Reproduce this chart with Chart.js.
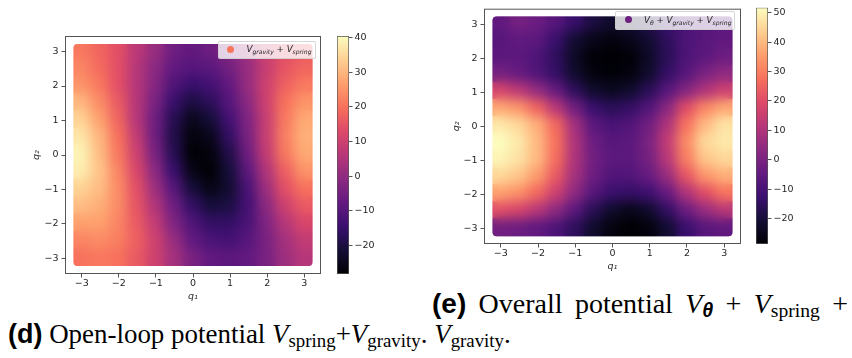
<!DOCTYPE html>
<html>
<head>
<meta charset="utf-8">
<script src="https://cdn.jsdelivr.net/npm/chart.js@4/dist/chart.umd.min.js"></script>
<style>
  body { margin: 0; background: #fff; width: 852px; height: 358px; overflow: hidden; position: relative; }
  canvas { position: absolute; top: 0; }
  .legend { position: absolute; z-index: 10; box-sizing: border-box; background: rgba(255,255,255,0.8); border: 1px solid rgba(204,204,204,0.8); border-radius: 2px; font-family: "DejaVu Sans"; font-size: 8.7px; color: #262626; }
  .legend .dot { position: absolute; width: 7px; height: 7px; border-radius: 50%; }
  .legend .txt { position: absolute; white-space: nowrap; line-height: 1; }
  .legend i { font-style: italic; }
  .legend sub { font-size: 0.7em; vertical-align: -0.3em; font-style: italic; }
  .cap { position: absolute; font-family: "Liberation Serif"; font-size: 28px; line-height: 1; white-space: nowrap; color: #000; }
  .cap b { font-family: "Liberation Sans"; font-weight: bold; }
  .cap sub { font-size: 0.7em; vertical-align: -0.22em; line-height: 0; }
  #capE { left: 432px; top: 290px; width: 416px; display: flex; justify-content: space-between; }
  #capD { left: 8px; top: 320px; transform: scaleX(0.962); transform-origin: 0 0; }
</style>
</head>
<body>
<div class="legend" style="left:218px;top:41px;width:98px;height:18px">
  <span class="dot" style="left:7.5px;top:4px;background:#f8775c"></span>
  <span class="txt" style="left:27.5px;top:3px"><i>V</i><sub>gravity</sub> + <i>V</i><sub>spring</sub></span>
</div>
<div class="legend" style="left:615px;top:11px;width:120px;height:19px">
  <span class="dot" style="left:9px;top:4px;background:#6c1f80"></span>
  <span class="txt" style="left:28px;top:3.5px"><i>V</i><sub>θ</sub> + <i>V</i><sub>gravity</sub> + <i>V</i><sub>spring</sub></span>
</div>

<div class="cap" id="capE">
  <b>(e)</b><span>Overall</span><span>potential</span><span><i>V</i><sub><b><i>θ</i></b></sub></span><span>+</span><span><i>V</i><sub>spring</sub></span><span>+</span>
</div>
<div class="cap" id="capD"><b>(d)</b> Open-loop potential <i>V</i><sub>spring</sub>+<i>V</i><sub>gravity</sub>. <i>V</i><sub>gravity</sub>.</div>

<script>
// grid of the sampled points (rows go from q2 = 3 down to q2 = -3)
const q1Vals = [-3, -2.5, -2, -1.5, -1, -0.5, 0, 0.5, 1, 1.5, 2, 2.5, 3];
const q2Vals = [3, 2.5, 2, 1.5, 1, 0.5, 0, -0.5, -1, -1.5, -2, -2.5, -3];
const qTicks = [-3, -2, -1, 0, 1, 2, 3];

// (d) open-loop potential V_gravity + V_spring
const openLoopV = [
  [21, 18, 14, 7, 1, -6, -8, -6, -2, 3, 10, 14, 16],
  [23, 19, 14, 6, -1, -8, -10, -9, -5, 1, 9, 15, 18],
  [25, 21, 14, 6, -2, -11, -15, -13, -8, 1, 10, 17, 21],
  [30, 24, 16, 6, -4, -15, -20, -17, -10, -1, 10, 20, 25],
  [34, 27, 18, 6, -6, -18, -25, -21, -13, -3, 9, 21, 28],
  [37, 30, 20, 8, -6, -19, -27, -25, -16, -4, 9, 22, 29],
  [39, 31, 21, 10, -4, -18, -28, -27, -19, -6, 8, 21, 28],
  [38, 32, 23, 12, -1, -15, -26, -28, -21, -9, 5, 17, 25],
  [34, 31, 24, 14, 2, -10, -21, -26, -22, -12, 2, 14, 20],
  [31, 29, 24, 15, 5, -6, -16, -21, -20, -13, -1, 10, 16],
  [27, 27, 23, 16, 8, -3, -11, -16, -16, -12, -3, 6, 12],
  [23, 24, 22, 17, 10, 1, -8, -12, -13, -10, -4, 3, 8],
  [20, 21, 20, 16, 10, 3, -4, -8, -9, -8, -4, 2, 6]
];
const openLoopLimits = [-28.3, 40.5];
const openLoopCbarTicks = [-20, -10, 0, 10, 20, 30, 40];

// (e) overall potential V_theta + V_gravity + V_spring
const overallV = [
  [-5, -1, -3, -7, -13, -19, -22, -21, -17, -13, -9, -7, -6],
  [-7, -5, -6, -13, -21, -25, -27, -25, -21, -15, -9, -7, -5],
  [-6, -6, -9, -15, -23, -28, -29, -28, -23, -16, -9, -6, -3],
  [-1, -4, -8, -14, -22, -27, -28, -27, -22, -14, -7, 0, 4],
  [18, 13, 5, -4, -15, -22, -24, -22, -16, -7, 2, 10, 16],
  [37, 34, 25, 12, -2, -13, -16, -14, -8, 3, 20, 31, 37],
  [48, 45, 38, 26, 8, -6, -10, -8, -2, 10, 28, 40, 47],
  [52, 48, 40, 28, 10, -3, -7, -6, 0, 14, 32, 45, 48],
  [50, 47, 40, 27, 10, -2, -6, -6, -1, 12, 30, 42, 45],
  [45, 42, 35, 23, 8, -3, -8, -8, -4, 6, 22, 34, 38],
  [36, 33, 26, 16, 4, -7, -13, -14, -12, -4, 10, 20, 28],
  [21, 18, 12, 4, -6, -16, -22, -25, -22, -14, -3, 6, 12],
  [-2, -3, -5, -9, -15, -22, -27, -29, -27, -21, -13, -7, -5]
];
const overallLimits = [-28.6, 51.7];
const overallCbarTicks = [-20, -10, 0, 10, 20, 30, 40, 50];

const magmaStops = ['#000004', '#140e36', '#3b0f70', '#641a80', '#8c2981', '#b73779',
                    '#de4968', '#f7705c', '#fe9f6d', '#fecf92', '#fcfdbf'];

const axisColor = '#555';
const textColor = '#262626';
const clear = 'rgba(0,0,0,0)';
const tickFont = { family: 'DejaVu Sans', size: 9.5 };
const titleFont = { family: 'DejaVu Sans', size: 9.5, style: 'italic' };
const qLimit = 3.45;
const fieldEdge = 3.22;

function hexRgb(h) {
  return [1, 3, 5].map(i => parseInt(h.slice(i, i + 2), 16));
}
const magmaRgb = magmaStops.map(hexRgb);

function magma(t) {
  t = Math.min(1, Math.max(0, t)) * (magmaRgb.length - 1);
  const i = Math.min(Math.floor(t), magmaRgb.length - 2);
  const f = t - i;
  const a = magmaRgb[i], b = magmaRgb[i + 1];
  const c = a.map((v, k) => Math.round(v + (b[k] - v) * f));
  return `rgb(${c[0]},${c[1]},${c[2]})`;
}

function minusLabel(v) {
  return String(v).replace('-', '\u2212');
}

function gridPoints(rows) {
  const pts = [];
  rows.forEach((row, i) => {
    row.forEach((v, j) => pts.push({ x: q1Vals[j], y: q2Vals[i], v: v }));
  });
  return pts;
}

function makeCanvas(left, w, h, z) {
  const cv = document.createElement('canvas');
  cv.width = w;
  cv.height = h;
  cv.style.left = left + 'px';
  cv.style.zIndex = z;
  document.body.appendChild(cv);
  return cv;
}

// frame around the axes
const framePlugin = {
  id: 'frame',
  afterDraw(chart) {
    const { ctx, chartArea: a } = chart;
    ctx.save();
    ctx.strokeStyle = axisColor;
    ctx.lineWidth = 1;
    ctx.strokeRect(a.left + 0.5, a.top + 0.5, a.right - a.left - 1, a.bottom - a.top - 1);
    ctx.restore();
  }
};

function plotChart(cv, rows, limits, padding, yWidth, xHeight, withAxes) {
  const ink = withAxes ? textColor : clear;
  const line = withAxes ? axisColor : clear;
  const datasets = [];
  if (!withAxes) {
    datasets.push({
      data: gridPoints(rows),
      pointStyle: 'rect',
      borderWidth: 0,
      backgroundColor: c => c.raw ? magma((c.raw.v - limits[0]) / (limits[1] - limits[0])) : '#000',
      pointRadius: c => {
        const s = c.chart.scales.x;
        return (Math.abs(s.getPixelForValue(0.25) - s.getPixelForValue(0)) + 1) / Math.SQRT1_2;
      }
    });
  }
  return new Chart(cv, {
    type: 'scatter',
    data: { datasets: datasets },
    options: {
      responsive: false,
      animation: false,
      events: [],
      layout: { padding: padding },
      plugins: { legend: { display: false }, tooltip: { enabled: false } },
      scales: {
        x: {
          type: 'linear', min: -qLimit, max: qLimit,
          afterBuildTicks: s => { s.ticks = qTicks.map(v => ({ value: v })); },
          afterFit: s => { s.height = xHeight; },
          grid: { drawOnChartArea: false, tickLength: 3.5, color: line },
          border: { display: false },
          ticks: { color: ink, font: tickFont, padding: 0, maxRotation: 0, callback: minusLabel },
          title: { display: true, text: 'q₁', color: ink, font: titleFont, padding: { top: 0, bottom: 8 } }
        },
        y: {
          type: 'linear', min: -qLimit, max: qLimit,
          afterBuildTicks: s => { s.ticks = qTicks.map(v => ({ value: v })); },
          afterFit: s => { s.width = yWidth; },
          grid: { drawOnChartArea: false, tickLength: 3.5, color: line },
          border: { display: false },
          ticks: { color: ink, font: tickFont, padding: 3, callback: minusLabel },
          title: { display: true, text: 'q₂', color: ink, font: titleFont, padding: { top: 30.5, bottom: 0 } }
        }
      }
    },
    plugins: withAxes ? [framePlugin] : []
  });
}

// a crisp copy of the cells, a blurred copy on top of it, then the axes
function heatmap(left, w, h, rows, limits, padding, yWidth, xHeight) {
  ['crisp', 'soft'].forEach((kind, k) => {
    const cv = makeCanvas(left, w, h, 1 + k);
    const chart = plotChart(cv, rows, limits, padding, yWidth, xHeight, false);
    const { x, y } = chart.scales;
    const l = x.getPixelForValue(-fieldEdge), r = x.getPixelForValue(fieldEdge);
    const t = y.getPixelForValue(fieldEdge), b = y.getPixelForValue(-fieldEdge);
    cv.style.clipPath = `inset(${t}px ${w - r}px ${h - b}px ${l}px round 4px)`;
    if (kind === 'soft') cv.style.filter = 'blur(6px)';
  });
  plotChart(makeCanvas(left, w, h, 3), rows, limits, padding, yWidth, xHeight, true);
}

function colorbar(left, w, h, limits, ticks, padding, yWidth) {
  new Chart(makeCanvas(left, w, h, 3), {
    type: 'bar',
    data: {
      labels: [''],
      datasets: [{
        data: [limits],
        backgroundColor: c => {
          const y = c.chart.scales.y;
          if (!y) return '#000';
          const p0 = y.getPixelForValue(limits[0]), p1 = y.getPixelForValue(limits[1]);
          if (!isFinite(p0) || !isFinite(p1)) return '#000';
          const g = c.chart.ctx.createLinearGradient(0, p0, 0, p1);
          magmaStops.forEach((col, i) => g.addColorStop(i / (magmaStops.length - 1), col));
          return g;
        },
        borderColor: axisColor,
        borderWidth: 1,
        borderSkipped: false,
        barPercentage: 1,
        categoryPercentage: 1
      }]
    },
    options: {
      responsive: false,
      animation: false,
      events: [],
      layout: { padding: padding },
      plugins: { legend: { display: false }, tooltip: { enabled: false } },
      scales: {
        x: { display: false },
        y: {
          position: 'right', min: limits[0], max: limits[1],
          afterBuildTicks: s => { s.ticks = ticks.map(v => ({ value: v })); },
          afterFit: s => { s.width = yWidth; },
          grid: { drawOnChartArea: false, tickLength: 3.5, color: axisColor },
          border: { display: false },
          ticks: { color: textColor, font: tickFont, padding: 2, callback: minusLabel }
        }
      }
    }
  });
}

heatmap(0, 330, 310, openLoopV, openLoopLimits, { left: 0, top: 36, right: 9, bottom: 0 }, 65, 36);
colorbar(330, 60, 300, openLoopLimits, openLoopCbarTicks, { left: 7, top: 36, right: 0, bottom: 26 }, 41);
heatmap(420, 330, 280, overallV, overallLimits, { left: 0, top: 6, right: 9, bottom: 0 }, 64, 36);
colorbar(750, 60, 270, overallLimits, overallCbarTicks, { left: 6, top: 6, right: 0, bottom: 26 }, 42);
</script>
</body>
</html>
